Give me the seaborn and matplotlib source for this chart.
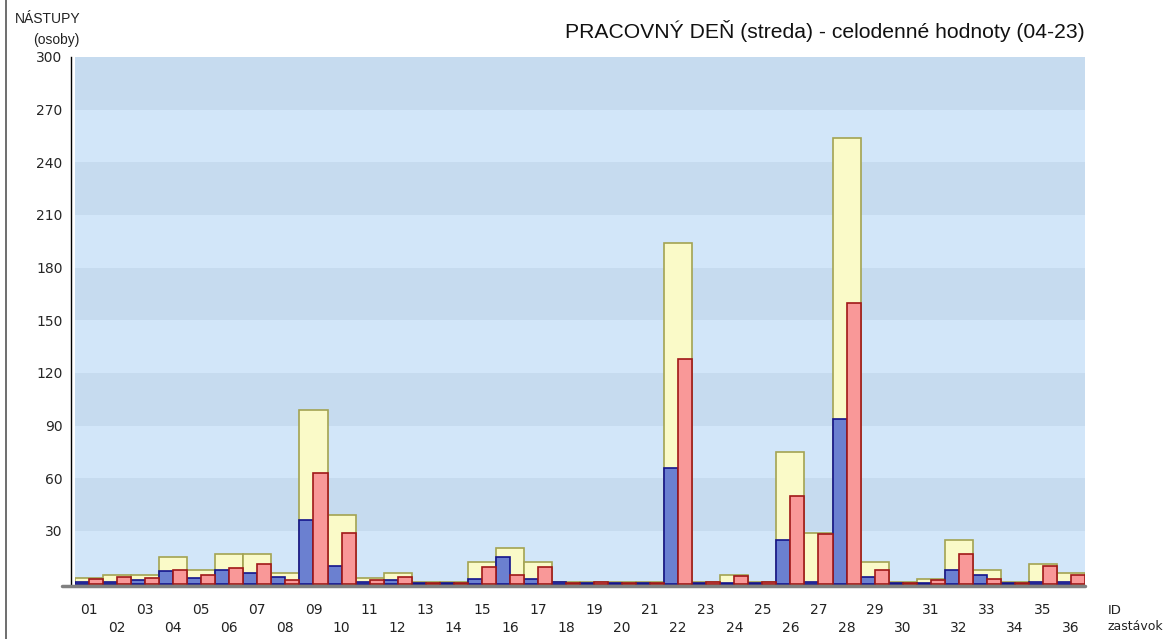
import pandas as pd
import matplotlib.pyplot as plt
import seaborn as sns
from matplotlib.lines import Line2D

# stop ids and boardings
stops = ["01", "02", "03", "04", "05", "06", "07", "08", "09", "10", "11", "12",
         "13", "14", "15", "16", "17", "18", "19", "20", "21", "22", "23", "24",
         "25", "26", "27", "28", "29", "30", "31", "32", "33", "34", "35", "36"]
total = [3, 5, 5, 15, 8, 17, 17, 6, 99, 39, 3, 6,
         1, 1, 12, 20.5, 12, 1, 1, 1, 1, 194, 1, 5,
         1, 75, 29, 254, 12, 1, 2.5, 25, 7.5, 1, 11, 6]
dir_a = [1, 1, 2, 7, 3, 8, 6, 4, 36, 10, 1, 2,
         0.5, 0.5, 2.5, 15, 2.5, 1, 0.5, 0.5, 0.5, 66, 0.5, 0.5,
         0.5, 25, 1, 94, 4, 0.5, 0.5, 8, 5, 0.5, 1, 1]
dir_b = [2.5, 4, 3, 8, 5, 9, 11, 2, 63, 29, 2, 4,
         0.5, 0.5, 9.5, 5, 9.5, 0.5, 1, 0.5, 0.5, 128, 1, 4.5,
         1, 50, 28, 160, 8, 0.5, 2, 17, 2.5, 0.5, 10, 5]
y_ticks = [30, 60, 90, 120, 150, 180, 210, 240, 270, 300]

df_total = pd.DataFrame({"stop": stops, "value": total})
df_dir = pd.DataFrame({
    "stop": stops + stops,
    "value": dir_a + dir_b,
    "dir": ["A"] * len(stops) + ["B"] * len(stops),
})

sns.set_style("white")
plt.rcParams['font.family'] = ['DejaVu Sans']

fig = plt.figure(figsize=(11.68, 6.39), dpi=100)
ax = fig.add_axes([75 / 1168, 1 - 586 / 639, 1010 / 1168, (586 - 57) / 639])

# alternating background bands
for i, lo in enumerate(range(0, 300, 30)):
    ax.axhspan(lo, lo + 30, color="#c6dbef" if i % 2 else "#d2e6f9", lw=0, zorder=0)

sns.barplot(data=df_total, x="stop", y="value", order=stops, width=1.0,
            color="#fafac8", edgecolor="#a3a352", linewidth=1.2,
            saturation=1, errorbar=None, ax=ax)
sns.barplot(data=df_dir, x="stop", y="value", hue="dir", order=stops, width=1.0,
            palette={"A": "#6b80d0", "B": "#f99898"}, linewidth=1.2,
            saturation=1, errorbar=None, legend=False, ax=ax)

for bar in ax.containers[1]:
    bar.set_edgecolor("#14148c")
for bar in ax.containers[2]:
    bar.set_edgecolor("#a01818")

ax.set_xlim(-0.5, 35.5)
ax.set_ylim(-1.4, 300)
ax.set_facecolor("white")

# y axis
ax.set_yticks(y_ticks)
ax.set_yticklabels([str(t) for t in y_ticks], fontsize=10, color="#333333")
ax.tick_params(axis="y", length=0, pad=6)
ax.spines["left"].set_position(("outward", 3))
ax.spines["left"].set_bounds(0, 300)
ax.spines["left"].set_color("black")
ax.spines["left"].set_linewidth(1)
for s in ["top", "right", "bottom"]:
    ax.spines[s].set_visible(False)

# x axis: two rows of labels, ticks at stop boundaries
labels = [s if i % 2 == 0 else "\n" + s for i, s in enumerate(stops)]
ax.set_xticks(range(len(stops)))
ax.set_xticklabels(labels, fontsize=10, color="#222222", linespacing=1.3)
ax.tick_params(axis="x", length=0, pad=12.5)
ax.set_xticks([k + 0.5 for k in range(len(stops))], minor=True)
ax.tick_params(axis="x", which="minor", length=7, width=1, color="black")
ax.axhline(-1.4, xmin=-0.013, xmax=1, color="#808080", lw=2.5, clip_on=False, zorder=5)
ax.set_xlabel("")
ax.set_ylabel("")

# texts
fig.text(1085 / 1168, 1 - 31 / 639, "PRACOVNÝ DEŇ (streda) - celodenné hodnoty (04-23)",
         ha="right", va="center", fontsize=15.2, family="Liberation Sans", color="#111111")
fig.text(80 / 1168, 1 - 19 / 639, "NÁSTUPY", ha="right", va="center",
         fontsize=10, family="Liberation Sans", color="#222222")
fig.text(80 / 1168, 1 - 40 / 639, "(osoby)", ha="right", va="center",
         fontsize=10, family="Liberation Sans", color="#222222")
fig.text(1108 / 1168, 1 - 610 / 639, "ID", ha="left", va="center", fontsize=9.5, color="#222222")
fig.text(1108 / 1168, 1 - 627 / 639, "zastávok", ha="left", va="center", fontsize=9, color="#222222")

# left frame line of the image
fig.add_artist(Line2D([5.5 / 1168, 5.5 / 1168], [0, 1], color="#555555", lw=1.2))

plt.savefig("out.png", dpi=100)
